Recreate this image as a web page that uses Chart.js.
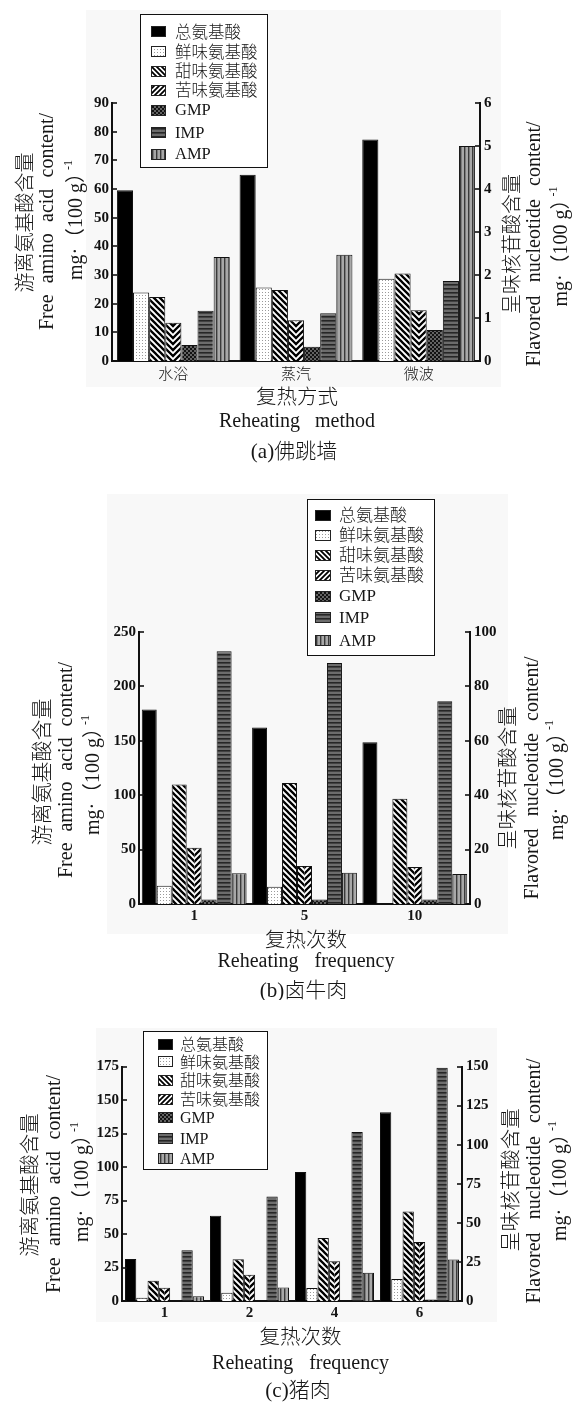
<!DOCTYPE html>
<html lang="zh">
<head>
<meta charset="utf-8">
<title>复热对游离氨基酸及呈味核苷酸含量的影响</title>
<script src="https://cdn.jsdelivr.net/npm/chart.js@4.4.1/dist/chart.umd.min.js"></script>
<style>
  html, body { margin: 0; padding: 0; background: #fff; }
  #page { position: relative; width: 573px; height: 1405px; overflow: hidden; background: #fff; }
  #page canvas { position: absolute; left: 0; }
</style>
</head>
<body>
<div id="page">
  <canvas id="panelA" style="top:0px"></canvas>
  <canvas id="panelB" style="top:470px"></canvas>
  <canvas id="panelC" style="top:1000px"></canvas>
</div>
<script>
// ---------- series shared by all three panels ----------
const seriesNames = ['总氨基酸', '鲜味氨基酸', '甜味氨基酸', '苦味氨基酸', 'GMP', 'IMP', 'AMP'];

// ---------- (a) 佛跳墙, by reheating method ----------
const methodsA  = ['水浴', '蒸汽', '微波'];
const totalA    = [59.6, 65.0, 77.3];
const umamiA    = [23.9, 25.6, 28.7];
const sweetA    = [22.3, 24.8, 30.5];
const bitterA   = [13.3, 14.2, 17.7];
const gmpA      = [0.37, 0.33, 0.72];
const impA      = [1.17, 1.11, 1.86];
const ampA      = [2.42, 2.47, 5.0];
const leftTicksA  = [0, 10, 20, 30, 40, 50, 60, 70, 80, 90];
const rightTicksA = [0, 1, 2, 3, 4, 5, 6];

// ---------- (b) 卤牛肉, by reheating frequency ----------
const timesB    = ['1', '5', '10'];
const totalB    = [178.7, 162.2, 148.7];
const umamiB    = [16.8, 15.9, 0];
const sweetB    = [109.9, 111.1, 96.7];
const bitterB   = [51.7, 35.0, 34.0];
const gmpB      = [1.7, 1.7, 1.7];
const impB      = [92.9, 88.6, 74.5];
const ampB      = [11.3, 11.5, 11.0];
const leftTicksB  = [0, 50, 100, 150, 200, 250];
const rightTicksB = [0, 20, 40, 60, 80, 100];

// ---------- (c) 猪肉, by reheating frequency ----------
const timesC    = ['1', '2', '4', '6'];
const totalC    = [31.3, 63.6, 96.2, 140.9];
const umamiC    = [2.5, 6.2, 9.7, 16.4];
const sweetC    = [15.2, 31.1, 47.0, 66.8];
const bitterC   = [9.9, 19.6, 29.6, 44.0];
const gmpC      = [0, 0, 0, 0.9];
const impC      = [32.4, 66.9, 108.1, 149.2];
const ampC      = [3.0, 8.7, 18.1, 26.6];
const leftTicksC  = [0, 25, 50, 75, 100, 125, 150, 175];
const rightTicksC = [0, 25, 50, 75, 100, 125, 150];

// ---------- text ----------
const yTitleLeft  = ['游离氨基酸含量', 'Free amino acid content/'];
const yTitleRight = ['呈味核苷酸含量', 'Flavored nucleotide content/'];
const unitMain = 'mg·（100 g）';
const unitSup  = '-1';

const SERIF = '"Liberation Serif", "Times New Roman", "Noto Sans CJK SC", serif';
const CJK   = '"Noto Sans CJK SC", "Noto Sans", sans-serif';
const INK   = '#161616';

// ---------- fill patterns ----------
function tile(w, h, draw) {
  const c = document.createElement('canvas');
  c.width = w; c.height = h;
  draw(c.getContext('2d'), w, h);
  return c;
}
function stripeTile(p, lw, dir) {           // dir 1: "\"  dir -1: "/"
  return tile(p, p, (g) => {
    g.fillStyle = '#fff'; g.fillRect(0, 0, p, p);
    g.strokeStyle = '#000'; g.lineWidth = lw;
    g.beginPath();
    for (let k = -p; k <= p; k += p) {
      if (dir > 0) { g.moveTo(k - 2, -2); g.lineTo(k + p + 2, p + 2); }
      else { g.moveTo(k - 2, p + 2); g.lineTo(k + p + 2, -2); }
    }
    g.stroke();
  });
}
function chevronTile(W, p, lw) {            // "\" on the left half, "/" on the right half
  return tile(W, p, (g) => {
    g.fillStyle = '#fff'; g.fillRect(0, 0, W, p);
    const half = W / 2;
    const paint = () => {
      g.save();
      g.beginPath(); g.rect(0, 0, half, p); g.clip();
      g.strokeStyle = '#000'; g.lineWidth = lw;
      g.beginPath();
      for (let k = -2 * p; k <= W + p; k += p) { g.moveTo(k - 2, -2); g.lineTo(k + p + 2, p + 2); }
      g.stroke();
      g.restore();
    };
    paint();
    g.save(); g.translate(W, 0); g.scale(-1, 1); paint(); g.restore();
  });
}
function makeFills(ctx) {
  const pat = (c) => ctx.createPattern(c, 'repeat');
  const dots = tile(3, 3, (g) => { g.fillStyle = '#fff'; g.fillRect(0, 0, 3, 3); g.fillStyle = '#9a9a9a'; g.fillRect(1, 1, 1, 1); });
  const checker = tile(4, 4, (g) => {
    g.fillStyle = '#121212'; g.fillRect(0, 0, 4, 4);
    g.fillStyle = '#626262'; g.fillRect(0, 0, 2, 2); g.fillRect(2, 2, 2, 2);
  });
  const hLines = tile(4, 4, (g) => { g.fillStyle = '#6c6c6c'; g.fillRect(0, 0, 4, 4); g.fillStyle = '#262626'; g.fillRect(0, 0, 4, 1.6); });
  const vLines = tile(4, 4, (g) => { g.fillStyle = '#a8a8a8'; g.fillRect(0, 0, 4, 4); g.fillStyle = '#3a3a3a'; g.fillRect(0, 0, 1.4, 4); });
  const bar = ['#000000', pat(dots), pat(stripeTile(6, 2.3, 1)), '#ffffff', pat(checker), pat(hLines), pat(vLines)];
  const swatch = ['#000000', pat(dots), pat(stripeTile(5, 1.8, 1)), pat(stripeTile(5, 1.8, -1)), pat(checker), pat(hLines), pat(vLines)];
  return { bar, swatch };
}

// ---------- text helpers ----------
function drawWords(g, text, cx, cy, width, vertical) {
  g.save();
  g.translate(cx, cy);
  if (vertical) g.rotate(-Math.PI / 2);
  g.textAlign = 'left'; g.textBaseline = 'middle';
  const words = text.split(' ');
  const ws = words.map(w => g.measureText(w).width);
  const sum = ws.reduce((s, v) => s + v, 0);
  const minGap = g.measureText(' ').width;
  let gap = minGap;
  if (width && words.length > 1) gap = Math.max(minGap, (width - sum) / (words.length - 1));
  const total = sum + gap * (words.length - 1);
  let x = -total / 2;
  words.forEach((w, i) => { g.fillText(w, x, 0); x += ws[i] + gap; });
  g.restore();
}
function drawUnit(g, cx, cy, size, vertical) {
  g.save();
  g.translate(cx, cy);
  if (vertical) g.rotate(-Math.PI / 2);
  g.textAlign = 'left'; g.textBaseline = 'middle';
  g.font = `${size}px ${SERIF}`;
  const w1 = g.measureText(unitMain).width;
  const supSize = Math.round(size * 0.6);
  g.font = `${supSize}px ${SERIF}`;
  const w2 = g.measureText(unitSup).width;
  const pull = size * 0.35;                 // the full-width bracket leaves room on its right
  const total = w1 - pull + w2;
  const x0 = -total / 2;
  g.font = `${size}px ${SERIF}`;
  g.fillText(unitMain, x0, 0);
  g.font = `${supSize}px ${SERIF}`;
  g.fillText(unitSup, x0 + w1 - pull, -size * 0.42);
  g.restore();
}

// ---------- decorations: background, inward ticks, titles, legend ----------
function panelDecor(cfg, fills) {
  const off = cfg.pageTop;
  return {
    id: 'panelDecor',
    beforeDraw(chart) {
      const g = chart.ctx, b = cfg.bg;
      g.save();
      g.fillStyle = '#f8f8f8';
      g.fillRect(b[0], b[1] - off, b[2] - b[0], b[3] - b[1]);
      g.restore();
    },
    beforeDatasetsDraw(chart) {
      const meta = chart.getDatasetMeta(3);
      meta.data.forEach(el => {
        const p = el.getProps(['x', 'width'], true);
        if (!p.width) return;
        const pattern = chart.ctx.createPattern(chevronTile(Math.max(2, Math.round(p.width)), 6, 2.3), 'repeat');
        pattern.setTransform(new DOMMatrix([1, 0, 0, 1, Math.round(p.x - p.width / 2), 0]));
        try { el.options.backgroundColor = pattern; } catch (e) { /* keep plain fill */ }
      });
    },
    afterDraw(chart) {
      const g = chart.ctx, a = chart.chartArea;

      // tick marks pointing into the plot
      g.save();
      g.strokeStyle = '#111'; g.lineWidth = 1.6;
      [['y', a.left, 5], ['y2', a.right, -5]].forEach(([id, x0, len]) => {
        const s = chart.scales[id];
        s.ticks.forEach((t, i) => {
          const y = Math.round(s.getPixelForTick(i));
          g.beginPath(); g.moveTo(x0, y); g.lineTo(x0 + len, y); g.stroke();
        });
      });
      g.restore();

      // axis titles
      g.save();
      g.fillStyle = INK;
      const L = cfg.yTitleL, R = cfg.yTitleR, X = cfg.xTitle;
      g.font = `300 ${L.zh}px ${CJK}`;
      drawWords(g, yTitleLeft[0], L.x[0], L.y[0] - off, 0, true);
      g.font = `${L.en}px ${SERIF}`;
      drawWords(g, yTitleLeft[1], L.x[1], L.y[1] - off, L.enWidth, true);
      drawUnit(g, L.x[2], L.y[2] - off, L.en, true);

      g.font = `300 ${R.zh}px ${CJK}`;
      drawWords(g, yTitleRight[0], R.x[0], R.y[0] - off, 0, true);
      g.font = `${R.en}px ${SERIF}`;
      drawWords(g, yTitleRight[1], R.x[1], R.y[1] - off, R.enWidth, true);
      drawUnit(g, R.x[2], R.y[2] - off, R.en, true);

      g.font = `300 ${X.zh}px ${CJK}`;
      drawWords(g, cfg.xTitleZh, X.x[0], X.y[0] - off, 0, false);
      g.font = `${X.en}px ${SERIF}`;
      drawWords(g, cfg.xTitleEn, X.x[1], X.y[1] - off, X.enWidth, false);
      g.font = `300 ${X.cap}px ${SERIF}`;
      drawWords(g, cfg.caption, X.x[2], X.y[2] - off, 0, false);
      g.restore();

      // legend
      const lg = cfg.legend, bx = lg.box;
      g.save();
      g.fillStyle = '#fff';
      g.fillRect(bx[0], bx[1] - off, bx[2] - bx[0], bx[3] - bx[1]);
      g.strokeStyle = '#111'; g.lineWidth = 1;
      g.strokeRect(Math.round(bx[0]) + 0.5, Math.round(bx[1] - off) + 0.5, Math.round(bx[2] - bx[0]), Math.round(bx[3] - bx[1]));
      g.textAlign = 'left'; g.textBaseline = 'middle';
      seriesNames.forEach((name, i) => {
        const cy = lg.rows[i] - off;
        const sy = Math.round(cy - lg.swH / 2);
        g.fillStyle = fills.swatch[i];
        g.fillRect(lg.swX, sy, lg.swW, lg.swH);
        g.strokeStyle = '#222';
        g.strokeRect(lg.swX + 0.5, sy + 0.5, lg.swW - 1, lg.swH - 1);
        g.fillStyle = INK;
        g.font = i < 4 ? `300 ${lg.size}px ${CJK}` : `${lg.size}px ${SERIF}`;
        g.fillText(name, lg.textX, cy + (i < 4 ? 0 : 1));
      });
      g.restore();
    }
  };
}

// ---------- one panel = one bar chart with two value axes ----------
function buildPanel(cfg) {
  const canvas = document.getElementById(cfg.canvasId);
  canvas.width = 573; canvas.height = cfg.height;
  const ctx = canvas.getContext('2d');
  const fills = makeFills(ctx);
  const off = cfg.pageTop, A = cfg.area;

  const datasets = cfg.values.map((vals, i) => ({
    label: seriesNames[i],
    data: vals,
    yAxisID: i < 4 ? 'y' : 'y2',
    backgroundColor: i === 3 ? (() => '#ffffff') : fills.bar[i],
    borderColor: '#111',
    borderWidth: 1,
    borderSkipped: 'start',
    categoryPercentage: cfg.barFrac,
    barPercentage: 1
  }));

  const tickFont = { family: SERIF, size: 15, weight: 'bold' };
  const valueAxis = (ticks, position, width) => ({
    type: 'linear',
    position,
    min: ticks[0],
    max: ticks[ticks.length - 1],
    grid: { display: false, drawTicks: false },
    border: { display: true, color: '#111', width: 2 },
    ticks: { stepSize: ticks[1] - ticks[0], font: tickFont, color: '#111', padding: position === 'left' ? 3 : 4 },
    afterFit(s) { s.width = width; }
  });

  new Chart(ctx, {
    type: 'bar',
    data: { labels: cfg.categories, datasets },
    options: {
      responsive: false,
      animation: false,
      devicePixelRatio: 1,
      events: [],
      layout: { padding: { top: A.top - off, left: 0, right: 0, bottom: 0 } },
      plugins: { legend: { display: false }, tooltip: { enabled: false } },
      scales: {
        x: {
          type: 'category',
          offset: true,
          grid: { display: false, drawTicks: false },
          border: { display: true, color: '#111', width: 2 },
          ticks: { font: cfg.catFont, color: INK, padding: cfg.catPad, maxRotation: 0, autoSkip: false },
          afterFit(s) { s.height = cfg.height - (A.bottom - off); }
        },
        y: valueAxis(cfg.leftTicks, 'left', A.left),
        y2: valueAxis(cfg.rightTicks, 'right', 573 - A.right)
      }
    },
    plugins: [panelDecor(cfg, fills)]
  });
}

buildPanel({
  canvasId: 'panelA', pageTop: 0, height: 470,
  area: { left: 112, right: 480, top: 103, bottom: 361 },
  categories: methodsA,
  values: [totalA, umamiA, sweetA, bitterA, gmpA, impA, ampA],
  leftTicks: leftTicksA, rightTicks: rightTicksA,
  barFrac: 0.92,
  catFont: { family: CJK, size: 15, weight: '300' }, catPad: 3,
  bg: [86, 10, 501, 387],
  legend: { box: [140, 14, 267.3, 166.7], swX: 151, swW: 15, swH: 11, textX: 175,
            rows: [31.7, 51.7, 71, 90, 110, 132.3, 154], size: 16.5 },
  yTitleL: { x: [24.7, 47.5, 77], y: [222.5, 221.5, 220], zh: 20, en: 20, enWidth: 217 },
  yTitleR: { x: [511, 535, 562], y: [244, 244, 246.5], zh: 20, en: 20, enWidth: 245 },
  xTitle: { x: [297, 297, 294], y: [396.7, 421.7, 452], zh: 20.5, en: 20, enWidth: 156, cap: 21 },
  xTitleZh: '复热方式', xTitleEn: 'Reheating method', caption: '(a)佛跳墙'
});

buildPanel({
  canvasId: 'panelB', pageTop: 470, height: 530,
  area: { left: 139, right: 470, top: 632, bottom: 904 },
  categories: timesB,
  values: [totalB, umamiB, sweetB, bitterB, gmpB, impB, ampB],
  leftTicks: leftTicksB, rightTicks: rightTicksB,
  barFrac: 0.95,
  catFont: { family: SERIF, size: 15, weight: 'bold' }, catPad: 3,
  bg: [107, 494, 508, 934],
  legend: { box: [307, 499.3, 434.3, 655], swX: 315, swW: 16, swH: 11, textX: 339,
            rows: [515, 535, 555, 575, 596, 617.7, 640.7], size: 17 },
  yTitleL: { x: [41, 66.7, 94], y: [772, 770, 775], zh: 21, en: 20, enWidth: 216 },
  yTitleR: { x: [507, 533, 558], y: [778, 778, 780], zh: 20.5, en: 20, enWidth: 243 },
  xTitle: { x: [306, 306, 303.4], y: [939.5, 962, 991.7], zh: 20.5, en: 20, enWidth: 177, cap: 21 },
  xTitleZh: '复热次数', xTitleEn: 'Reheating frequency', caption: '(b)卤牛肉'
});

buildPanel({
  canvasId: 'panelC', pageTop: 1000, height: 405,
  area: { left: 122, right: 462, top: 1066.5, bottom: 1301 },
  categories: timesC,
  values: [totalC, umamiC, sweetC, bitterC, gmpC, impC, ampC],
  leftTicks: leftTicksC, rightTicks: rightTicksC,
  barFrac: 0.93,
  catFont: { family: SERIF, size: 15, weight: 'bold' }, catPad: 3,
  bg: [96, 1028, 497, 1322],
  legend: { box: [143.3, 1031, 267.3, 1169], swX: 158, swW: 15, swH: 11, textX: 180,
            rows: [1044.3, 1061.7, 1080, 1099, 1117.3, 1138.3, 1158.5], size: 16 },
  yTitleL: { x: [29, 55, 83], y: [1185, 1184, 1182], zh: 20.5, en: 20, enWidth: 218 },
  yTitleR: { x: [510, 535, 561], y: [1180, 1181, 1181], zh: 20.5, en: 20, enWidth: 245 },
  xTitle: { x: [300.6, 300.6, 298], y: [1336.7, 1364, 1391.7], zh: 20.5, en: 20, enWidth: 177, cap: 21 },
  xTitleZh: '复热次数', xTitleEn: 'Reheating frequency', caption: '(c)猪肉'
});
</script>
</body>
</html>
